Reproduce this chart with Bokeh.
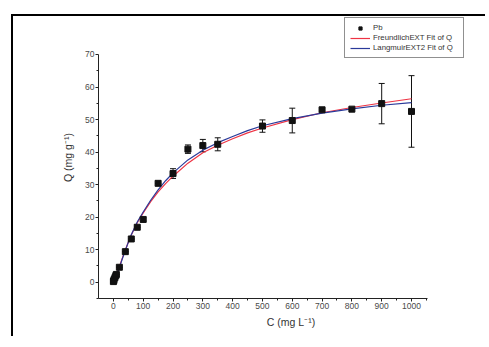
from bokeh.plotting import figure
from bokeh.models import (ColumnDataSource, Whisker, Legend, LegendItem, Range1d, FixedTicker)
from bokeh.embed import file_html
from bokeh.resources import INLINE

# data
pb_c = [0, 1, 2, 5, 8, 10, 20, 40, 60, 80, 100, 150, 200, 250, 300, 350, 500, 600, 700, 800, 900, 1000]
pb_q = [0.2, 0.4, 0.8, 1.4, 2.0, 2.4, 4.6, 9.4, 13.3, 16.9, 19.3, 30.4, 33.4, 40.9, 42.0, 42.4, 48.0, 49.7, 53.0, 53.2, 54.9, 52.5]
pb_err = [0, 0, 0, 0, 0, 0, 0, 0, 0, 0, 0.5, 0, 1.5, 1.3, 1.9, 2.0, 1.9, 3.8, 0.4, 0, 6.2, 11.0]

fit_c = [0, 10, 20, 30, 40, 50, 60, 80, 100, 125, 150, 175, 200, 250, 300, 350, 400, 450, 500, 600, 700, 800, 900, 1000]
freundlich_q = [0, 2.2, 4.8, 7.4, 9.9, 12.3, 14.5, 18.3, 21.3, 24.8, 27.8, 30.3, 32.6, 36.6, 39.8, 42.1, 44.1, 45.9, 47.4, 50.0, 52.1, 53.7, 55.1, 56.4]
langmuir_q = [0, 2.0, 4.5, 7.2, 9.8, 12.3, 14.6, 18.5, 21.6, 25.2, 28.4, 31.2, 33.6, 37.6, 40.6, 42.9, 44.8, 46.6, 48.1, 50.3, 52.0, 53.3, 54.4, 55.2]

x_ticks = [0, 100, 200, 300, 400, 500, 600, 700, 800, 900, 1000]
y_ticks = [0, 10, 20, 30, 40, 50, 60, 70]

FONT = "Liberation Sans"

p = figure(width=474, height=322, output_backend="svg", toolbar_location=None,
           x_range=Range1d(-50, 1241.5), y_range=Range1d(-5, 81.68),
           min_border_left=85, min_border_right=4, min_border_top=0, min_border_bottom=40)
p.styles = {"margin-left": "13px", "margin-top": "16px",
            "box-shadow": "-2px -2px 0px 0px black"}
p.outline_line_color = None
p.border_fill_color = "white"
p.xgrid.visible = False
p.ygrid.visible = False

for ax in (p.xaxis[0], p.yaxis[0]):
    ax.axis_line_color = "#222222"
    ax.axis_line_width = 1
    ax.major_tick_in = 0
    ax.major_tick_out = 3
    ax.minor_tick_in = 0
    ax.minor_tick_out = 2
    ax.major_tick_line_color = "#222222"
    ax.minor_tick_line_color = "#222222"
    ax.major_label_text_font = FONT
    ax.major_label_text_font_size = "8.5px"
    ax.major_label_text_color = "#4a4a4a"
    ax.axis_label_text_font = FONT
    ax.axis_label_text_font_size = "10.5px"
    ax.axis_label_text_font_style = "normal"
    ax.axis_label_text_color = "#333333"

p.xaxis.bounds = (-50, 1053)
p.yaxis.bounds = (-5, 70)
p.xaxis.ticker = FixedTicker(ticks=x_ticks, minor_ticks=[v + 50 for v in x_ticks])
p.yaxis.ticker = FixedTicker(ticks=y_ticks, minor_ticks=[v - 5 for v in y_ticks])
p.xaxis.axis_label = "C (mg L\u207b\u00b9)"
p.yaxis.axis_label = "Q (mg g\u207b\u00b9)"
p.xaxis.major_label_standoff = 1
p.yaxis.major_label_standoff = 1
p.xaxis.axis_label_standoff = 4
p.yaxis.axis_label_standoff = 8

src = ColumnDataSource(dict(c=pb_c, q=pb_q,
                            lo=[q - e for q, e in zip(pb_q, pb_err)],
                            hi=[q + e for q, e in zip(pb_q, pb_err)]))

wh = Whisker(source=src, base="c", lower="lo", upper="hi", line_color="#111111", line_width=1)
wh.upper_head.size = 6
wh.lower_head.size = 6
wh.upper_head.line_color = "#111111"
wh.lower_head.line_color = "#111111"
p.add_layout(wh)

r_f = p.line(fit_c, freundlich_q, line_color="#ee3344", line_width=1.2)
r_l = p.line(fit_c, langmuir_q, line_color="#2a3a9a", line_width=1.2)
r_pb = p.scatter("c", "q", source=src, marker="square", size=6, fill_color="#111111", line_color="#111111")

legend = Legend(items=[LegendItem(label="Pb", renderers=[r_pb]),
                       LegendItem(label="FreundlichEXT Fit of Q", renderers=[r_f]),
                       LegendItem(label="LangmuirEXT2 Fit of Q", renderers=[r_l])],
                location=(246, 240), orientation="vertical")
legend.label_text_font = FONT
legend.label_text_font_size = "7.8px"
legend.label_text_color = "#333333"
legend.glyph_width = 20
legend.glyph_height = 8
legend.label_height = 8
legend.label_width = 85
legend.label_standoff = 3
legend.spacing = 1
legend.padding = 5
legend.margin = 0
legend.border_line_color = "#222222"
legend.border_line_width = 1
legend.background_fill_color = "white"
legend.background_fill_alpha = 1
p.add_layout(legend, "center")

open("out.html", "w").write(file_html(p, INLINE))
